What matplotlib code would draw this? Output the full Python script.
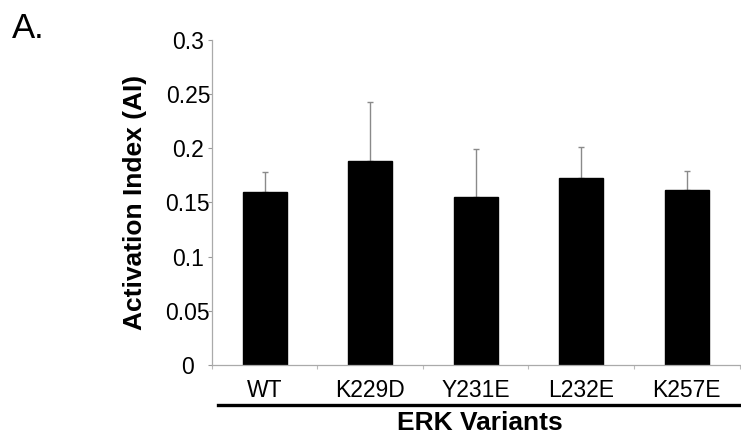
import matplotlib
matplotlib.use("Agg")
import matplotlib.pyplot as plt
from matplotlib.lines import Line2D

categories = ["WT", "K229D", "Y231E", "L232E", "K257E"]
values = [0.160, 0.188, 0.155, 0.173, 0.1615]
errors = [0.018, 0.0545, 0.044, 0.028, 0.0175]
yticks = [0, 0.05, 0.1, 0.15, 0.2, 0.25, 0.3]
ytick_labels = ["0", "0.05", "0.1", "0.15", "0.2", "0.25", "0.3"]

plt.rcParams['font.family'] = ['Liberation Sans', 'DejaVu Sans']

fig = plt.figure(figsize=(7.41, 4.37), dpi=100)
ax = fig.add_axes([0.286, 0.1648, 0.712, 0.7437])

x = list(range(len(categories)))
ax.bar(x, values, width=0.415, color="black", edgecolor="black", zorder=2)
ax.errorbar(x, values, yerr=[[0] * len(errors), errors], fmt="none",
            ecolor="#8a8a8a", elinewidth=1.0, capsize=2.5, capthick=1.0, zorder=1)

ax.set_xlim(-0.5, len(categories) - 0.5)
ax.set_ylim(0, 0.3)
ax.set_yticks(yticks)
ax.set_yticklabels(ytick_labels, fontsize=16.5)
for lab in ax.get_yticklabels():
    lab.set_horizontalalignment("center")
ax.tick_params(axis="y", length=3, width=0.8, color="#999999", pad=14.3)

ax.set_xticks(x)
ax.set_xticklabels(categories, fontsize=16.5)
ax.tick_params(axis="x", which="major", length=0, pad=10)
ax.set_xticks([i - 0.5 for i in range(len(categories) + 1)], minor=True)
ax.tick_params(axis="x", which="minor", length=3, width=0.8, color="#bbbbbb")

for s in ["top", "right"]:
    ax.spines[s].set_visible(False)
for s in ["left", "bottom"]:
    ax.spines[s].set_color("#aaaaaa")
    ax.spines[s].set_linewidth(0.9)

fig.add_artist(Line2D([218 / 741, 1.0], [1 - 405 / 437, 1 - 405 / 437],
                      transform=fig.transFigure, color="black", lw=2.4))
fig.text(479.5 / 741, 1 - 423 / 437, "ERK Variants", fontsize=19,
         fontweight="bold", ha="center", va="center")
fig.text(135 / 741, 1 - 202 / 437, "Activation Index (AI)", fontsize=19,
         fontweight="bold", rotation=90, ha="center", va="center")
fig.text(12 / 741, 1 - 28 / 437, "A.", fontsize=25, ha="left", va="center")

fig.savefig("out.png", dpi=100)
